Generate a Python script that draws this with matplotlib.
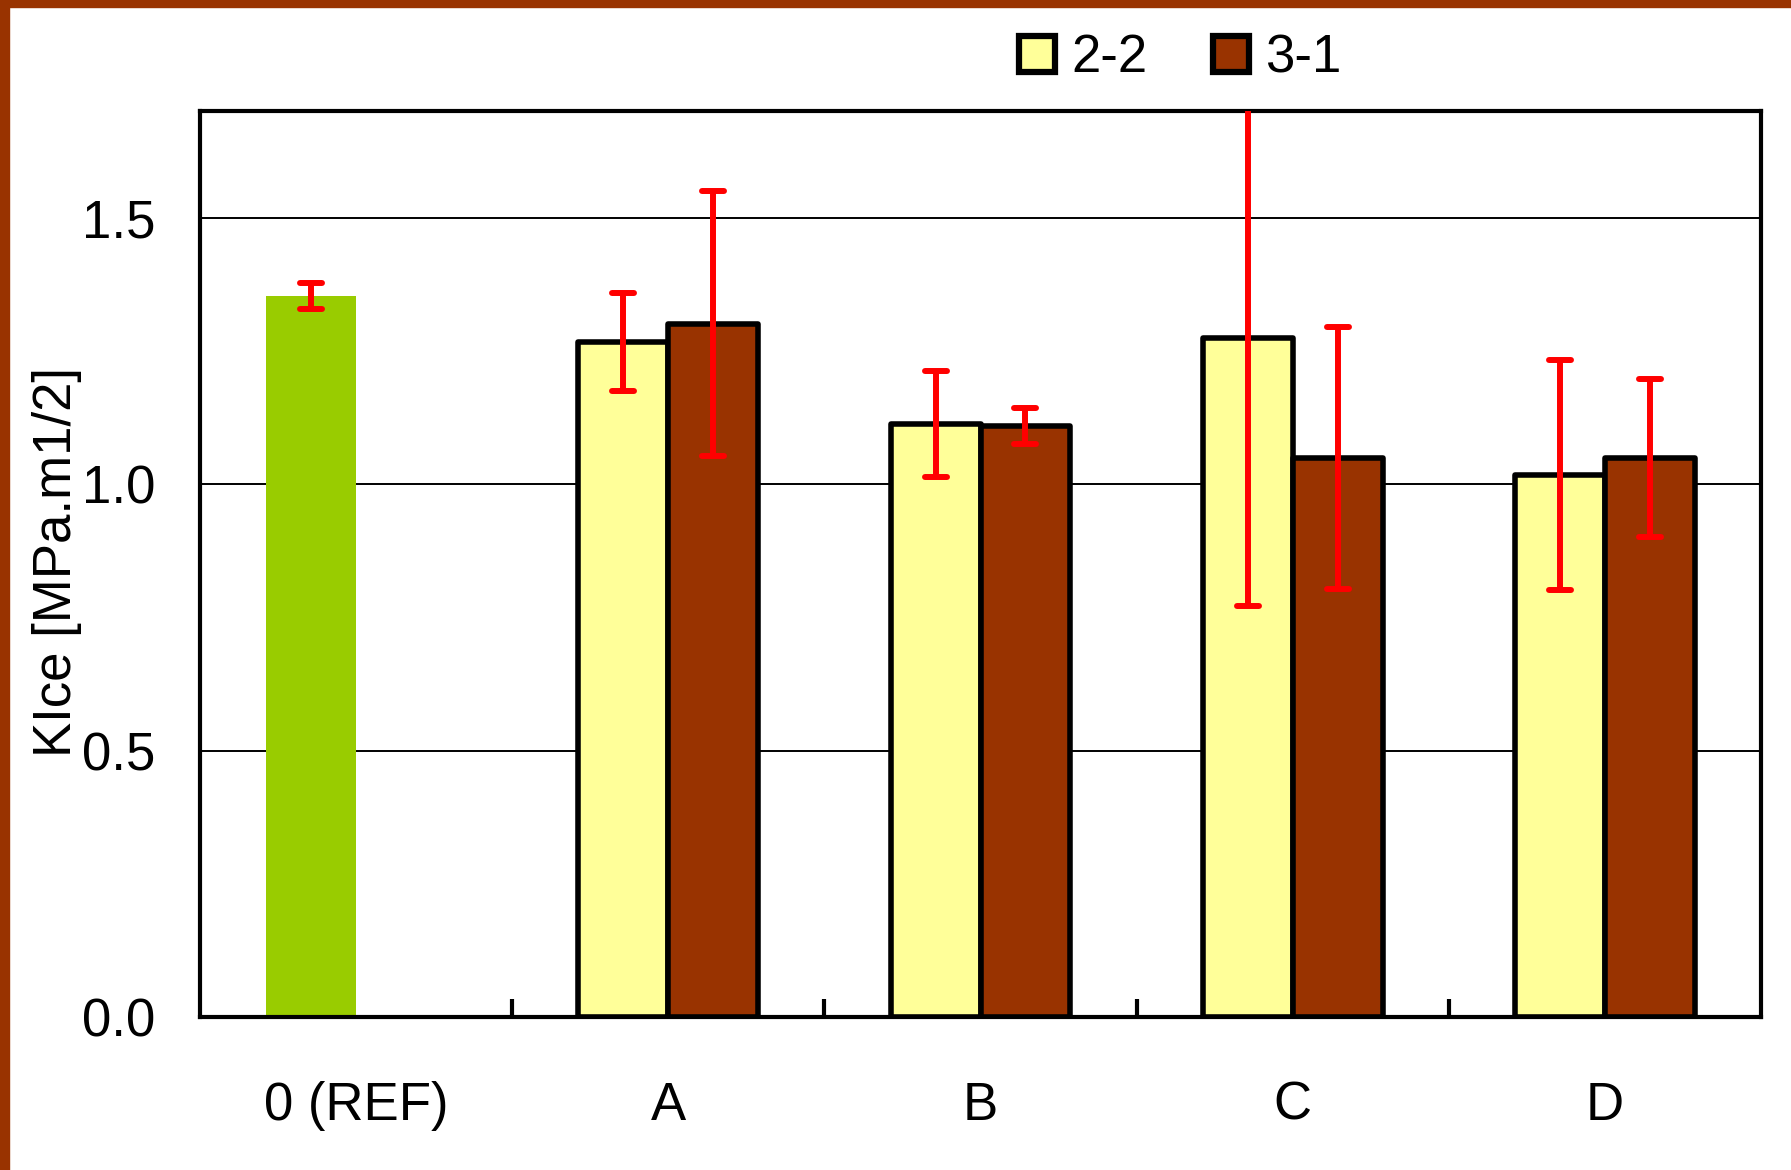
import numpy as np
import matplotlib.pyplot as plt
from matplotlib.patches import Rectangle, Patch
from matplotlib.markers import MarkerStyle

categories = ['0 (REF)', 'A', 'B', 'C', 'D']
ref_val = [1.353]
ref_err = [0.025]
s22_val = [1.267, 1.113, 1.274, 1.017]
s22_err = [0.092, 0.100, 0.503, 0.216]
s31_val = [1.301, 1.109, 1.049, 1.049]
s31_err = [0.248, 0.033, 0.246, 0.148]
series_names = ['2-2', '3-1']

plt.rcParams['font.family'] = ['Liberation Sans', 'DejaVu Sans']
plt.rcParams['font.size'] = 38

fig = plt.figure(figsize=(17.91, 11.70), dpi=100)
ax = fig.add_axes([200 / 1791, 1 - 1017 / 1170, 1561 / 1791, 906 / 1170])

w = 0.288
off = 0.144
x = np.arange(len(categories))
xg = x[1:]

ax.bar(x[0] - off, ref_val, w, color='#99CC00', zorder=2)
ax.bar(xg - off, s22_val, w, color='#FFFF99', edgecolor='black', linewidth=4,
       joinstyle='round', zorder=2)
ax.bar(xg + off, s31_val, w, color='#993300', edgecolor='black', linewidth=4,
       joinstyle='round', zorder=2)

ekw = dict(fmt='none', ecolor='red', elinewidth=4.3, capsize=8, capthick=4.3, zorder=3)
for xs, ys, es in [(x[0] - off, ref_val, ref_err),
                   (xg - off, s22_val, s22_err),
                   (xg + off, s31_val, s31_err)]:
    _, caps, bars = ax.errorbar(xs, ys, yerr=es, **ekw)
    for c in caps:
        c.set_marker(MarkerStyle('_', capstyle='round'))
    for b in bars:
        b.set_capstyle('butt')

ax.set_xlim(-0.5, 4.5)
ax.set_ylim(0, 1.7)
ax.set_yticks([0, 0.5, 1.0, 1.5])
ax.set_yticklabels(['0.0', '0.5', '1.0', '1.5'])
ax.set_xticks(x)
ax.set_xticklabels(categories)
ax.set_xticks(np.arange(0.5, 4.5, 1), minor=True)
ax.tick_params(axis='x', which='major', length=0, pad=46)
ax.tick_params(axis='x', which='minor', direction='in', length=13, width=3)
ax.tick_params(axis='y', length=0, pad=32)
ax.yaxis.grid(True, color='black', linewidth=1.4)
ax.set_axisbelow(True)
for s in ax.spines.values():
    s.set_linewidth(3)

fig.text(57 / 1791, 1 - 562 / 1170, 'KIce [MPa.m1/2]', rotation=90,
         ha='center', va='center')

handles = [Patch(facecolor='#FFFF99', edgecolor='black', linewidth=4.5, joinstyle='round'),
           Patch(facecolor='#993300', edgecolor='black', linewidth=4.5, joinstyle='round')]
fig.legend(handles, series_names, loc='center', bbox_to_anchor=(0.659, 0.950),
           ncol=2, frameon=False, handlelength=0.68, handleheight=0.68,
           handletextpad=0.3, columnspacing=1.25)

# brown frame on left and top
fig.patches.append(Rectangle((0, 0), 9 / 1791, 1, transform=fig.transFigure,
                             color='#993300', zorder=10))
fig.patches.append(Rectangle((0, 1 - 7 / 1170), 1, 7 / 1170, transform=fig.transFigure,
                             color='#993300', zorder=10))

fig.savefig('out.png', dpi=100)
